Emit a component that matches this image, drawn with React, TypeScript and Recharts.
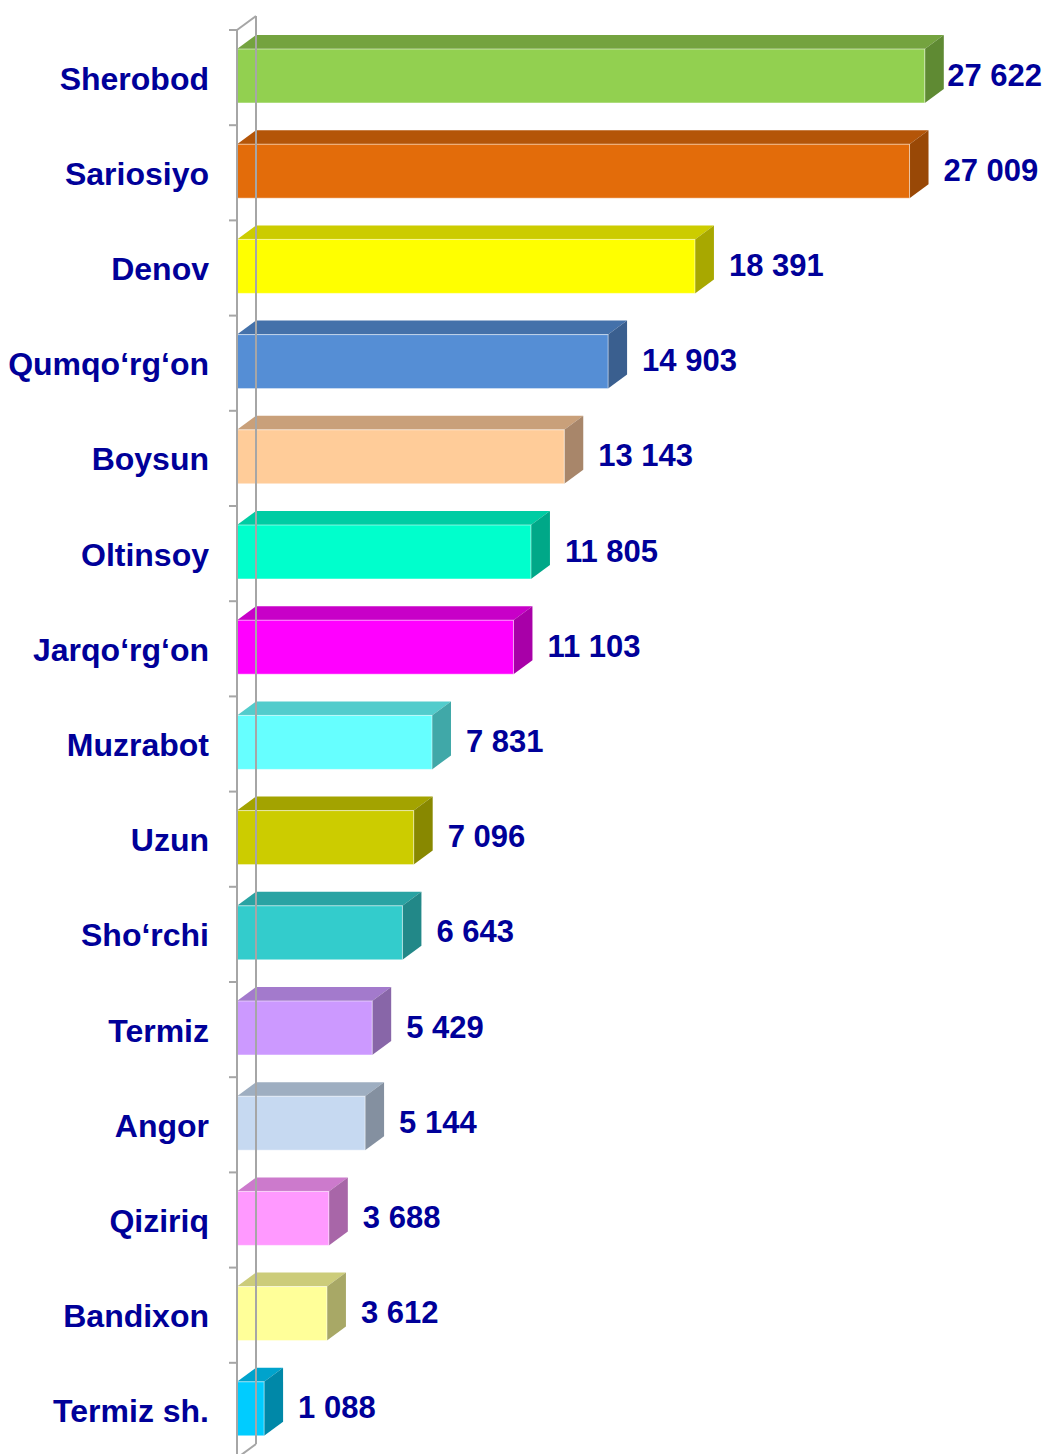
import { BarChart, Bar, XAxis, YAxis, LabelList, ReferenceLine } from 'recharts';

const districts = [
  'Sherobod', 'Sariosiyo', 'Denov', 'Qumqo‘rg‘on', 'Boysun', 'Oltinsoy', 'Jarqo‘rg‘on',
  'Muzrabot', 'Uzun', 'Sho‘rchi', 'Termiz', 'Angor', 'Qiziriq', 'Bandixon', 'Termiz sh.',
];
const counts = [27622, 27009, 18391, 14903, 13143, 11805, 11103, 7831, 7096, 6643, 5429, 5144, 3688, 3612, 1088];

const frontColors = [
  '#92D050', '#E36C0A', '#FFFF00', '#558ED5', '#FFCC99', '#00FFCC', '#FF00FF',
  '#66FFFF', '#CCCC00', '#33CCCC', '#CC99FF', '#C6D9F1', '#FF99FF', '#FFFF99', '#00CCFF',
];
const topColors = [
  '#74A33F', '#B45508', '#CCCC00', '#4471AA', '#C9A07A', '#00CCA3', '#C800C8',
  '#52CCCC', '#A3A300', '#29A3A3', '#A37ACC', '#9EAEC1', '#CC7ACC', '#CCCC7A', '#00A3CC',
];
const sideColors = [
  '#5F8A33', '#994806', '#A8A800', '#3A5F8F', '#A8866A', '#00A888', '#A800A8',
  '#40A8A8', '#888800', '#228888', '#8866A8', '#8490A0', '#A866A8', '#A8A866', '#0088A8',
];

const data = districts.map((name, i) => ({ name, value: counts[i] }));

const W = 1046;
const H = 1460;
const TOP = 30;
const BOTTOM = 2;
const AXIS_W = 237;
const RIGHT = 62;
const DX = 19;
const DY = 14;
const BAR = 54;
const BAND = (H - TOP - BOTTOM) / districts.length;
const TEXT = '#000099';
const FONT = '"Liberation Sans", Arial, sans-serif';
const WALL = '#A6A6A6';

const fmt = (v: number) => String(v).replace(/\B(?=(\d{3})+(?!\d))/g, ' ');

function Bar3D(props: any) {
  const { x, width, index } = props;
  const y = props.y - 2;
  const h = BAR;
  const r = x + width;
  return (
    <g>
      <polygon
        points={`${x},${y} ${x + DX},${y - DY} ${r + DX},${y - DY} ${r},${y}`}
        fill={topColors[index]}
      />
      <polygon
        points={`${r},${y} ${r + DX},${y - DY} ${r + DX},${y - DY + h} ${r},${y + h}`}
        fill={sideColors[index]}
      />
      <rect x={x} y={y} width={width} height={h} fill={frontColors[index]} stroke="#ffffff" strokeOpacity={0.5} strokeWidth={1} />
    </g>
  );
}

function CategoryTick(props: any) {
  const { y, payload } = props;
  const top = y - BAND / 2;
  return (
    <g>
      <line x1={AXIS_W - 8} x2={AXIS_W} y1={top} y2={top} stroke={WALL} strokeWidth={2} />
      <text
        x={209}
        y={y + 1}
        textAnchor="end"
        dominantBaseline="central"
        fill={TEXT}
        fontFamily={FONT}
        fontWeight="bold"
        fontSize={32}
      >
        {payload.value}
      </text>
    </g>
  );
}

function ValueLabel(props: any) {
  const { x, y, width, height, value } = props;
  const end = x + width;
  let lx = end + 34;
  let anchor: 'start' | 'end' = 'start';
  if (lx + 98 > W) {
    lx = W - 4;
    anchor = 'end';
  }
  return (
    <text
      x={lx}
      y={y + height / 2 - 3}
      textAnchor={anchor}
      dominantBaseline="central"
      fill={TEXT}
      fontFamily={FONT}
      fontWeight="bold"
      fontSize={31}
    >
      {fmt(value)}
    </text>
  );
}

function Wall(props: any) {
  const { x1, y1, y2 } = props;
  const bx = x1 + DX;
  return (
    <g fill="none" stroke={WALL} strokeWidth={2}>
      <line x1={x1} y1={y1} x2={x1} y2={y2} />
      <line x1={bx} y1={y1 - DY} x2={bx} y2={y2 - DY} />
      <line x1={x1} y1={y1} x2={bx} y2={y1 - DY} />
      <line x1={x1} y1={y2} x2={bx} y2={y2 - DY} />
    </g>
  );
}

export default function App() {
  return (
    <div style={{ position: 'absolute', left: 0, top: 0, width: W, height: 1454, overflow: 'hidden', background: '#fff' }}>
      <BarChart
        layout="vertical"
        width={W}
        height={H}
        data={data}
        margin={{ top: TOP, right: RIGHT, bottom: BOTTOM, left: 0 }}
      >
        <XAxis type="number" domain={[0, 30000]} hide />
        <YAxis
          type="category"
          dataKey="name"
          width={AXIS_W}
          axisLine={false}
          tickLine={false}
          interval={0}
          tick={<CategoryTick />}
        />
        <ReferenceLine x={0} shape={<Wall />} />
        <Bar dataKey="value" barSize={BAR} shape={<Bar3D />} isAnimationActive={false}>
          <LabelList dataKey="value" content={<ValueLabel />} />
        </Bar>
      </BarChart>
    </div>
  );
}
